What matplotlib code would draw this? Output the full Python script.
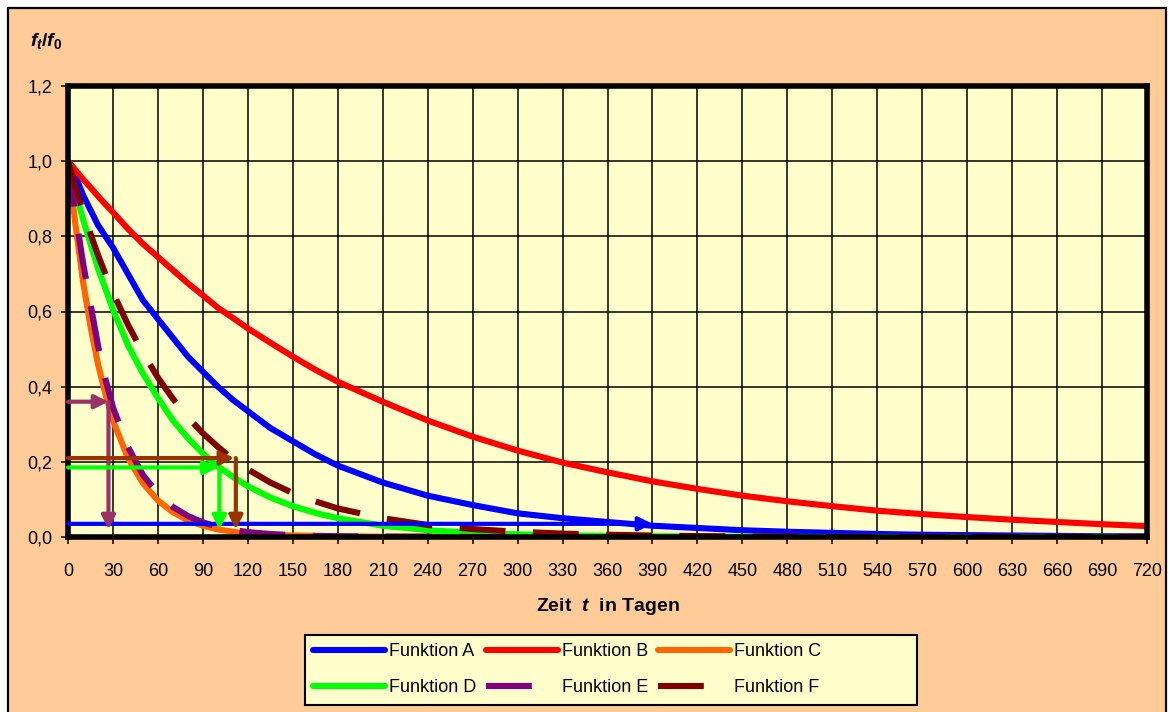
import matplotlib
matplotlib.use('agg')
import matplotlib.pyplot as plt
from matplotlib.patches import Rectangle
from matplotlib.ticker import FuncFormatter

days = [0, 5, 10, 15, 20, 25, 30, 40, 50, 60, 70, 80, 90, 100, 110, 120, 135, 150, 165, 180,
        210, 240, 270, 300, 330, 360, 390, 420, 450, 480, 510, 540, 570, 600, 630, 660, 690, 720]

funk_a = [1.0, 0.96, 0.91, 0.87, 0.83, 0.80, 0.77, 0.70, 0.63, 0.58, 0.53, 0.48, 0.44, 0.40, 0.365, 0.335,
          0.29, 0.255, 0.22, 0.19, 0.145, 0.11, 0.085, 0.063, 0.05, 0.04, 0.03, 0.024, 0.018, 0.014,
          0.011, 0.008, 0.006, 0.005, 0.004, 0.003, 0.002, 0.002]
funk_b = [1.0, 0.976, 0.952, 0.93, 0.907, 0.885, 0.864, 0.82, 0.78, 0.745, 0.71, 0.675, 0.643, 0.61, 0.583,
          0.555, 0.517, 0.48, 0.445, 0.413, 0.36, 0.31, 0.267, 0.23, 0.198, 0.172, 0.148, 0.128, 0.11,
          0.095, 0.082, 0.07, 0.061, 0.053, 0.046, 0.04, 0.034, 0.029]
funk_c = [1.0, 0.83, 0.68, 0.56, 0.46, 0.38, 0.31, 0.21, 0.143, 0.097, 0.066, 0.044, 0.03, 0.02, 0.014,
          0.009, 0.006, 0.004, 0.003, 0.002, 0.001, 0.001, 0.0, 0.0, 0.0, 0.0, 0.0, 0.0, 0.0, 0.0,
          0.0, 0.0, 0.0, 0.0, 0.0, 0.0, 0.0, 0.0]
funk_d = [1.0, 0.92, 0.845, 0.78, 0.715, 0.66, 0.605, 0.51, 0.435, 0.37, 0.31, 0.263, 0.222, 0.188, 0.16,
          0.135, 0.105, 0.082, 0.064, 0.05, 0.03, 0.018, 0.011, 0.007, 0.004, 0.003, 0.002, 0.001, 0.001,
          0.0, 0.0, 0.0, 0.0, 0.0, 0.0, 0.0, 0.0, 0.0]
funk_e = [1.0, 0.86, 0.73, 0.62, 0.51, 0.42, 0.345, 0.24, 0.165, 0.115, 0.08, 0.056, 0.039, 0.027, 0.019,
          0.013, 0.008, 0.005, 0.003, 0.002, 0.001, 0.001, 0.0, 0.0, 0.0, 0.0, 0.0, 0.0, 0.0, 0.0,
          0.0, 0.0, 0.0, 0.0, 0.0, 0.0, 0.0, 0.0]
funk_f = [1.0, 0.93, 0.867, 0.807, 0.75, 0.70, 0.65, 0.565, 0.49, 0.424, 0.368, 0.318, 0.276, 0.24, 0.207,
          0.18, 0.145, 0.117, 0.095, 0.076, 0.05, 0.032, 0.021, 0.014, 0.009, 0.006, 0.004, 0.0025,
          0.0015, 0.001, 0.0, 0.0, 0.0, 0.0, 0.0, 0.0, 0.0, 0.0]

labels = ['Funktion A', 'Funktion B', 'Funktion C', 'Funktion D', 'Funktion E', 'Funktion F']
colors = ['#0000FF', '#FF0000', '#FF6600', '#00FF00', '#800080', '#800000']
dashed = [False, False, False, False, True, True]

# reading arrows: (start x, start y) -> (end x, end y)
arrow_colors = ['#0000FF', '#993366', '#993366', '#00FF00', '#00FF00', '#993300', '#993300']
arrow_start = [(0, 0.035), (0, 0.36), (27, 0.36), (0, 0.185), (101, 0.185), (0, 0.21), (112, 0.21)]
arrow_end = [(390, 0.035), (27, 0.36), (27, 0.02), (100, 0.185), (101, 0.02), (111, 0.21), (112, 0.02)]

plt.rcParams['font.family'] = ['Liberation Sans', 'DejaVu Sans']
plt.rcParams['mathtext.fontset'] = 'custom'
plt.rcParams['mathtext.it'] = 'Liberation Sans:italic:bold'
plt.rcParams['mathtext.rm'] = 'Liberation Sans:bold'
plt.rcParams['mathtext.bf'] = 'Liberation Sans:bold'

W, H = 1169, 712
fig = plt.figure(figsize=(W / 100, H / 100), dpi=100, facecolor='white')

# peach chart area with black frame, running off the bottom edge
fig.patches.append(Rectangle((8 / W, -0.05), (1166 - 8) / W, 1 - 8 / H + 0.05,
                             transform=fig.transFigure, facecolor='#FFCC99',
                             edgecolor='black', linewidth=1.6, zorder=-10))
# legend box (Excel leaves a wide empty margin on the right)
fig.patches.append(Rectangle((305 / W, 1 - 705 / H), (917 - 305) / W, 70 / H,
                             transform=fig.transFigure, facecolor='#FFFFCC',
                             edgecolor='black', linewidth=1.5, zorder=-5))

ax = fig.add_axes([68 / W, 1 - 537 / H, (1147 - 68) / W, (537 - 86) / H])
ax.set_facecolor('#FFFFCC')

series = [funk_a, funk_b, funk_c, funk_d, funk_e, funk_f]
handles = []
for vals, lab, col, dsh in zip(series, labels, colors, dashed):
    if dsh:
        ln, = ax.plot(days, vals, color=col, lw=4.4, label=lab, dashes=(7.5, 4.5),
                      dash_capstyle='butt')
    else:
        ln, = ax.plot(days, vals, color=col, lw=4.4, label=lab, solid_capstyle='round',
                      solid_joinstyle='round')
    handles.append(ln)

for c, s, e in zip(arrow_colors, arrow_start, arrow_end):
    ax.annotate('', xy=e, xytext=s,
                arrowprops=dict(arrowstyle='-|>', color=c, lw=3, mutation_scale=20,
                                shrinkA=0, shrinkB=0))

ax.set_xlim(0, 720)
ax.set_ylim(0, 1.2)
ax.set_xticks(range(0, 721, 30))
ax.set_yticks([0, 0.2, 0.4, 0.6, 0.8, 1.0, 1.2])
ax.yaxis.set_major_formatter(FuncFormatter(lambda v, p: f'{v:.1f}'.replace('.', ',')))
ax.grid(True, color='black', lw=1.1)
ax.set_axisbelow(True)
for sp in ax.spines.values():
    sp.set_linewidth(4)
    sp.set_color('black')
ax.tick_params(axis='x', length=5, width=1.1, pad=14, labelsize=13)
ax.tick_params(axis='y', length=5, width=1.1, pad=6, labelsize=13)

ax.set_xlabel('Zeit  $t$  in Tagen', fontsize=14, fontweight='bold', labelpad=11)
fig.text(30 / W, 1 - 41 / H, r'$f_t/f_0$', fontsize=14, ha='left', va='center')

order = [0, 3, 1, 4, 2, 5]
leg = fig.legend([handles[i] for i in order], [labels[i] for i in order], ncol=3,
                 loc='upper left', bbox_to_anchor=(313 / W, 1 - 643 / H), fontsize=13,
                 frameon=False, handlelength=4.0, handletextpad=0.2, columnspacing=0.55,
                 labelspacing=1.05, borderpad=0, borderaxespad=0)

plt.savefig('out.png', dpi=100, facecolor='white')
plt.close('all')
